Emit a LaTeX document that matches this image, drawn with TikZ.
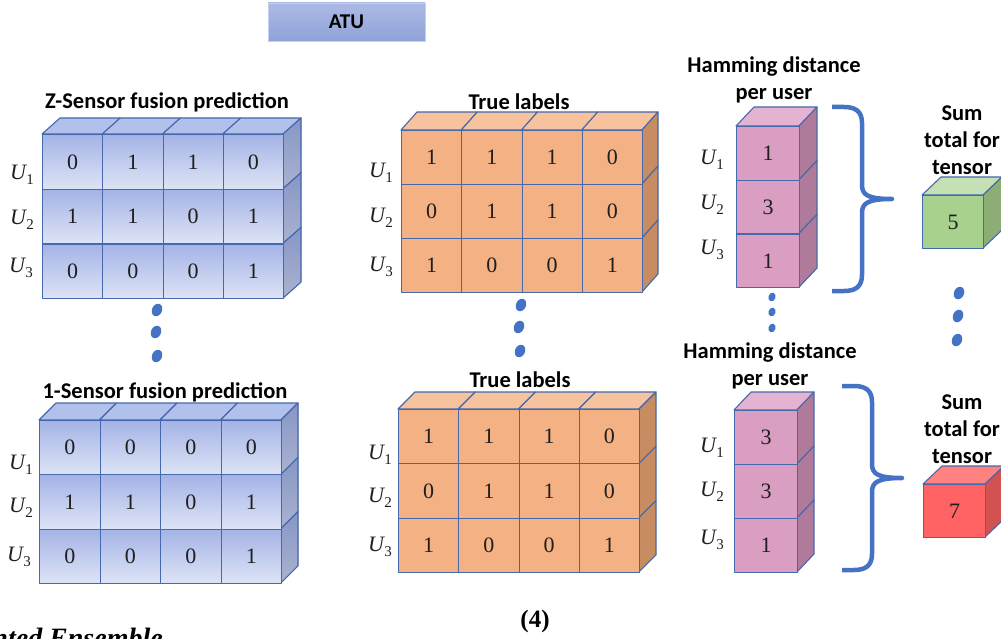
\documentclass[tikz,border=0pt]{standalone}
\usepackage{fontspec}
\setmainfont{Carlito}
\newfontfamily\capserif{Liberation Serif}
\usetikzlibrary{shapes.geometric}

% palette
\definecolor{edgec}{RGB}{70,104,172}
\definecolor{bfTop}{RGB}{164,179,230}
\definecolor{bfBot}{RGB}{222,228,246}
\definecolor{bTopFace}{RGB}{178,193,236}
\definecolor{bsTop}{RGB}{134,150,198}
\definecolor{bsBot}{RGB}{170,178,206}
\definecolor{oFront}{RGB}{244,177,131}
\definecolor{oTopFace}{RGB}{247,194,158}
\definecolor{oSide}{RGB}{200,140,98}
\definecolor{pFront}{RGB}{219,158,195}
\definecolor{pTopFace}{RGB}{229,179,210}
\definecolor{pSide}{RGB}{176,122,154}
\definecolor{gFront}{RGB}{169,209,142}
\definecolor{gTopFace}{RGB}{197,224,180}
\definecolor{gSide}{RGB}{140,174,116}
\definecolor{rFront}{RGB}{255,99,99}
\definecolor{rTopFace}{RGB}{255,130,128}
\definecolor{rSide}{RGB}{210,82,82}
\definecolor{accent}{RGB}{68,114,196}
\definecolor{atuTop}{RGB}{172,186,229}
\definecolor{atuBot}{RGB}{143,162,216}
\definecolor{inkc}{RGB}{30,30,30}

\newcommand\celltxt{\capserif\fontsize{22}{26}\selectfont\color{inkc}}
\newcommand\titletxt{\fontsize{22.5}{27}\selectfont\bfseries}
% user label U with an upright index
\newcommand\Ulab[1]{{\capserif\fontsize{22}{26}\selectfont\itshape U\kern0.5pt\raisebox{-5pt}{\upshape\fontsize{15}{17}\selectfont #1}}}

% top faces of a row of cubes: x0, y0, cell width, columns, dx, dy, style
\newcommand\gridtops[7]{%
  \foreach \cc in {1,...,#4}{%
    \filldraw[#7] ({#1+(\cc-1)*#3},#2) -- ++(#5,-#6) -- ++(#3,0) -- ++(-#5,#6) -- cycle;}}
% right faces of a column of cubes: x1, y0, cell height, rows, dx, dy, style
\newcommand\gridsides[7]{%
  \foreach \rr in {1,...,#4}{%
    \filldraw[#7] (#1,{#2+(\rr-1)*#3}) -- ++(#5,-#6) -- ++(0,#3) -- ++(-#5,#6) -- cycle;}}
% front faces with values: name, x0, y0, cell width, cell height, style, rows
\newcommand\gridfront[7]{%
  \foreach \rowv [count=\rr] in {#7}{%
    \foreach \v [count=\cc] in \rowv {%
      \node[#6, minimum width=#4, minimum height=#5, anchor=north west]
        (#1-\rr-\cc) at ({#2+(\cc-1)*#4},{#3+(\rr-1)*#5}) {\v};}}}

\tikzset{
  edge/.style={draw=edgec, line width=1.1pt, line join=round},
  cellbase/.style={edge, inner sep=0pt, font=\celltxt},
  bluefront/.style={cellbase, top color=bfTop, bottom color=bfBot},
  bluetop/.style={edge, fill=bTopFace},
  blueside/.style={edge, top color=bsTop, bottom color=bsBot},
  orangefront/.style={cellbase, fill=oFront},
  orangetop/.style={edge, fill=oTopFace},
  orangeside/.style={edge, fill=oSide},
  pinkfront/.style={cellbase, fill=pFront},
  pinktop/.style={edge, fill=pTopFace},
  pinkside/.style={edge, fill=pSide},
  greenfront/.style={cellbase, fill=gFront},
  greentop/.style={edge, fill=gTopFace},
  greenside/.style={edge, fill=gSide},
  redfront/.style={cellbase, fill=rFront},
  redtop/.style={edge, fill=rTopFace},
  redside/.style={edge, fill=rSide},
  ulab/.style={inner sep=0pt, text=inkc},
  heading/.style={font=\titletxt, align=center, inner sep=0pt},
  bigdot/.style={ellipse, fill=accent, inner sep=0pt, minimum width=10pt, minimum height=13pt, rotate=-25},
  smalldot/.style={ellipse, fill=accent, inner sep=0pt, minimum width=7pt, minimum height=9pt, rotate=-20},
  brace/.style={draw=accent, line width=4.5pt, line join=round, line cap=butt},
  bracepic/.pic={
    \draw[brace] (-60,-92) -- (-48,-92) .. controls (-37,-92) and (-30,-88) .. (-30,-76)
      -- (-30,-14) .. controls (-30,-4) and (-24,0) .. (0,0)
      .. controls (-24,0) and (-30,4) .. (-30,14)
      -- (-30,76) .. controls (-30,88) and (-37,92) .. (-48,92) -- (-60,92);
  }
}

\begin{document}
\begin{tikzpicture}[x=1pt,y=-1pt]
\useasboundingbox (0,0) rectangle (1001,639);

% ATU header
\node[minimum width=157, minimum height=38, top color=atuTop, bottom color=atuBot,
      draw=atuTop!70!white, line width=0.6pt, font=\fontsize{21}{24}\selectfont\bfseries]
  (atu) at (346.5,22) {ATU};

% ---------- Z-sensor fusion prediction ----------
\node[heading] (zt) at (167,102) {Z-Sensor fusion prediction};
\gridtops{42}{134}{60.25}{4}{18}{16}{bluetop}
\gridsides{283}{134}{54.7}{3}{18}{16}{blueside}
\gridfront{z}{42}{134}{60.25}{54.7}{bluefront}{{0,1,1,0},{1,1,0,1},{0,0,0,1}}
\node[ulab] (zu1) at (22,175) {\Ulab{1}};
\node[ulab] (zu2) at (22,220) {\Ulab{2}};
\node[ulab] (zu3) at (21,268) {\Ulab{3}};

\node[bigdot] (ld1) at (157,310) {};
\node[bigdot] (ld2) at (156,332) {};
\node[bigdot] (ld3) at (157,356) {};

% ---------- 1-sensor fusion prediction ----------
\node[heading] (ot) at (165,392) {1-Sensor fusion prediction};
\gridtops{39}{420}{60.5}{4}{17}{17}{bluetop}
\gridsides{281}{420}{54.3}{3}{17}{17}{blueside}
\gridfront{o}{39}{420}{60.5}{54.3}{bluefront}{{0,0,0,0},{1,1,0,1},{0,0,0,1}}
\node[ulab] (ou1) at (21,465) {\Ulab{1}};
\node[ulab] (ou2) at (21,508) {\Ulab{2}};
\node[ulab] (ou3) at (19,557) {\Ulab{3}};

% ---------- true labels (upper) ----------
\node[heading] (tt1) at (519,102) {True labels};
\gridtops{401}{130}{60.25}{4}{16}{18}{orangetop}
\gridsides{642}{130}{54}{3}{16}{18}{orangeside}
\gridfront{ta}{401}{130}{60.25}{54}{orangefront}{{1,1,1,0},{0,1,1,0},{1,0,0,1}}
\node[ulab] (tau1) at (381,173) {\Ulab{1}};
\node[ulab] (tau2) at (381,218) {\Ulab{2}};
\node[ulab] (tau3) at (381,267) {\Ulab{3}};

\node[bigdot] (md1) at (521,305) {};
\node[bigdot] (md2) at (519,327) {};
\node[bigdot] (md3) at (520,351) {};

% ---------- true labels (lower) ----------
\node[heading] (tt2) at (520,380) {True labels};
\gridtops{398}{409}{60.25}{4}{17}{17}{orangetop}
\gridsides{639}{409}{54.3}{3}{17}{17}{orangeside}
\gridfront{tb}{398}{409}{60.25}{54.3}{orangefront}{{1,1,1,0},{0,1,1,0},{1,0,0,1}}
\node[ulab] (tbu1) at (380,455) {\Ulab{1}};
\node[ulab] (tbu2) at (380,498) {\Ulab{2}};
\node[ulab] (tbu3) at (380,547) {\Ulab{3}};

% ---------- Hamming distance (upper) ----------
\node[heading] (ht1) at (774,80) {Hamming distance\\per user};
\gridtops{736}{126}{63}{1}{18}{19}{pinktop}
\gridsides{799}{126}{53.7}{3}{18}{19}{pinkside}
\gridfront{ha}{736}{126}{63}{53.7}{pinkfront}{{1},{3},{1}}
\node[ulab] (hau1) at (712,160) {\Ulab{1}};
\node[ulab] (hau2) at (712,205) {\Ulab{2}};
\node[ulab] (hau3) at (712,250) {\Ulab{3}};

\node[smalldot] (pd1) at (772,297) {};
\node[smalldot] (pd2) at (772,312) {};
\node[smalldot] (pd3) at (772,328) {};

\pic at (892,199) {bracepic};

% ---------- Hamming distance (lower) ----------
\node[heading] (ht2) at (770,366) {Hamming distance\\per user};
\gridtops{734}{410}{63}{1}{17}{18}{pinktop}
\gridsides{797}{410}{54}{3}{17}{18}{pinkside}
\gridfront{hb}{734}{410}{63}{54}{pinkfront}{{3},{3},{1}}
\node[ulab] (hbu1) at (712,448) {\Ulab{1}};
\node[ulab] (hbu2) at (712,492) {\Ulab{2}};
\node[ulab] (hbu3) at (712,540) {\Ulab{3}};

\pic at (902,478) {bracepic};

% ---------- sums ----------
\node[heading] (st1) at (962,140) {Sum\\total for\\tensor};
\gridtops{922}{195}{61}{1}{19}{18}{greentop}
\gridsides{983}{195}{53}{1}{19}{18}{greenside}
\gridfront{sa}{922}{195}{61}{53}{greenfront}{{5}}

\node[bigdot] (rd1) at (959,293) {};
\node[bigdot] (rd2) at (958,316) {};
\node[bigdot] (rd3) at (957,340) {};

\node[heading] (st2) at (962,429) {Sum\\total for\\tensor};
\gridtops{923}{484}{62}{1}{19}{18}{redtop}
\gridsides{985}{484}{53}{1}{19}{18}{redside}
\gridfront{sb}{923}{484}{62}{53}{redfront}{{7}}

% ---------- caption pieces ----------
\node[font=\capserif\bfseries\fontsize{25}{28}\selectfont, inner sep=0pt] (eqno) at (535,621) {(4)};
\node[font=\capserif\bfseries\itshape\fontsize{28}{31}\selectfont, inner sep=0pt, anchor=base east]
  (capt) at (163,647) {Weighted Ensemble};
\end{tikzpicture}
\end{document}
